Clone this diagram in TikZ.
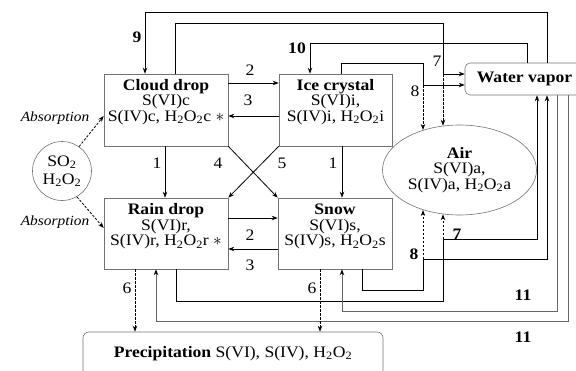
\documentclass[tikz,border=0pt]{standalone}
\usepackage{fontspec}
\setmainfont[FakeStretch=1.1]{Liberation Serif}
\usetikzlibrary{arrows.meta,shapes.geometric}
\newcommand\HtwoOtwo{H\textsubscript{2}O\textsubscript{2}}
\begin{document}
\begin{tikzpicture}[x=1pt,y=-1pt,
  >={Stealth[length=6pt,width=4.5pt]},
  box/.style={draw=black!55, line width=0.6pt, rectangle, align=center, inner sep=0pt, font=\fontsize{16}{15.5}\selectfont},
  conn/.style={line width=0.8pt, black},
  dconn/.style={conn, dash pattern=on 2.5pt off 1.5pt},
  gconn/.style={line width=0.9pt, black!60, -{Stealth[length=6pt,width=4.5pt,black]}},
  num/.style={inner sep=0pt, font=\fontsize{16}{16}\selectfont},
  bnum/.style={inner sep=0pt, font=\fontsize{16}{16}\selectfont\bfseries},
  absl/.style={inner sep=0pt, font=\fontsize{14}{14}\selectfont\itshape},
]
\useasboundingbox (0,0) rectangle (576,370);

% nodes
\node[box, minimum width=124pt, minimum height=72pt] (cloud) at (166,110) {\textbf{Cloud drop}\\S(VI)c\\S(IV)c, \HtwoOtwo c $\ast$\\[4pt]};
\node[box, minimum width=113pt, minimum height=72pt] (ice) at (335.5,110) {\textbf{Ice crystal}\\S(VI)i,\\S(IV)i, \HtwoOtwo i\\[4pt]};
\node[box, minimum width=124pt, minimum height=71pt] (rain) at (166,233.5) {\textbf{Rain drop}\\S(VI)r,\\S(IV)r, \HtwoOtwo r $\ast$\\[2pt]};
\node[box, minimum width=114pt, minimum height=71pt] (snow) at (335,233.5) {\textbf{Snow}\\S(VI)s,\\S(IV)s, \HtwoOtwo s\\[2pt]};
\node[box, ellipse, minimum width=154pt, minimum height=90pt] (air) at (459.5,170) {\textbf{Air}\\S(VI)a,\\S(IV)a, \HtwoOtwo a};
\node[box, circle, minimum size=59pt, font=\fontsize{16}{18}\selectfont] (so2) at (62,171) {SO\textsubscript{2}\\\HtwoOtwo};
\node[box, rounded corners=5pt, minimum width=119pt, minimum height=32pt] (vapor) at (524.5,79) {\textbf{Water vapor}};
\node[box, rounded corners=6pt, minimum width=300pt, minimum height=44pt] (precip) at (233,354) {\raisebox{5pt}{\textbf{Precipitation} S(VI), S(IV), \HtwoOtwo}};

% routing coordinates
\coordinate (a9) at (547,12); \coordinate (b9) at (145,12);
\coordinate (a7) at (175,23); \coordinate (b7) at (443,23); \coordinate (c7) at (443,74);
\coordinate (a10) at (527,43); \coordinate (b10) at (310,43);
\coordinate (a8) at (341,63); \coordinate (b8) at (423,63); \coordinate (c8) at (423,85);
\coordinate (a7b) at (176,301); \coordinate (b7b) at (443,301); \coordinate (c7b) at (443,239); \coordinate (e7b) at (537,239);
\coordinate (a8b) at (362,290); \coordinate (b8b) at (423,290); \coordinate (c8b) at (423,259); \coordinate (e8b) at (547,259);
\coordinate (a11) at (557,311); \coordinate (b11) at (342,311);
\coordinate (a11b) at (568,321); \coordinate (b11b) at (156,321);
\coordinate (x6a) at (135,0); \coordinate (x6b) at (320,0);
\coordinate (y2t) at (0,83); \coordinate (y3t) at (0,116);
\coordinate (y2b) at (0,218); \coordinate (y3b) at (0,249);
\coordinate (x1a) at (165,0); \coordinate (x1b) at (342,0);

% process 9 and 10
\draw[conn,->] (vapor.north -| a9) -- (a9) -- (b9) -- (cloud.north -| b9);
\draw[conn,->] (vapor.north -| a10) -- (a10) -- (b10) -- (ice.north -| b10);
% process 7 (top)
\draw[conn] (cloud.north -| a7) -- (a7) -- (b7) -- (c7);
\draw[conn,->] (c7) -- (vapor.west |- c7);
\draw[dconn,->] (c7) -- (air.110 -| c7);
% process 8 (top)
\draw[conn] (ice.north -| a8) -- (a8) -- (b8) -- (c8);
\draw[conn,->] (c8) -- (vapor.west |- c8);
\draw[dconn,->] (c8) -- (air.132 -| c8);
% process 7 (bottom)
\draw[conn] (rain.south -| a7b) -- (a7b) -- (b7b) -- (c7b);
\draw[conn,->] (c7b) -- (e7b) -- (vapor.south -| e7b);
\draw[dconn,->] (c7b) -- (air.-110 -| c7b);
% process 8 (bottom)
\draw[conn] (snow.south -| a8b) -- (a8b) -- (b8b) -- (c8b);
\draw[conn,->] (c8b) -- (e8b) -- (vapor.south -| e8b);
\draw[dconn,->] (c8b) -- (air.-132 -| c8b);
% process 11
\draw[gconn] (vapor.south -| a11) -- (a11) -- (b11) -- (snow.south -| b11);
\draw[gconn] (vapor.south -| a11b) -- (a11b) -- (b11b) -- (rain.south -| b11b);
% process 6
\draw[dconn,->] (rain.south -| x6a) -- (precip.north -| x6a);
\draw[dconn,->] (snow.south -| x6b) -- (precip.north -| x6b);
% internal processes
\draw[conn,->] (cloud.east |- y2t) -- (ice.west |- y2t);
\draw[conn,->] (ice.west |- y3t) -- (cloud.east |- y3t);
\draw[conn,->] (rain.east |- y2b) -- (snow.west |- y2b);
\draw[conn,->] (snow.west |- y3b) -- (rain.east |- y3b);
\draw[conn,->] (cloud.south -| x1a) -- (rain.north -| x1a);
\draw[conn,->] (ice.south -| x1b) -- (snow.north -| x1b);
\draw[conn,->] (cloud.south east) -- (snow.north west);
\draw[conn,->] (ice.south west) -- (rain.north east);
% absorption
\draw[dconn,->] (so2.55) -- ([yshift=-6pt]cloud.west);
\draw[dconn,->] (so2.-60) -- ([yshift=5.5pt]rain.west);

% labels
\node[absl] (abs1) at (55,118) {Absorption};
\node[absl] (abs2) at (55,222) {Absorption};
\node[num] (l2t) at (250,70) {2};
\node[num] (l3t) at (248,100) {3};
\node[num] (l2b) at (250,235) {2};
\node[num] (l3b) at (250,265) {3};
\node[num] (l1a) at (157,163) {1};
\node[num] (l1b) at (333,163) {1};
\node[num] (l4) at (218,163) {4};
\node[num] (l5) at (282,163) {5};
\node[bnum] (l9) at (137,37) {9};
\node[bnum] (l10) at (297,48) {10};
\node[num] (l7t) at (437,61) {7};
\node[num] (l8t) at (415,91) {8};
\node[bnum] (l7b) at (457,234) {7};
\node[bnum] (l8b) at (414,254) {8};
\node[bnum] (l11a) at (523,295) {11};
\node[bnum] (l11b) at (523,337) {11};
\node[num] (l6a) at (127,288) {6};
\node[num] (l6b) at (312,288) {6};
\end{tikzpicture}
\end{document}
